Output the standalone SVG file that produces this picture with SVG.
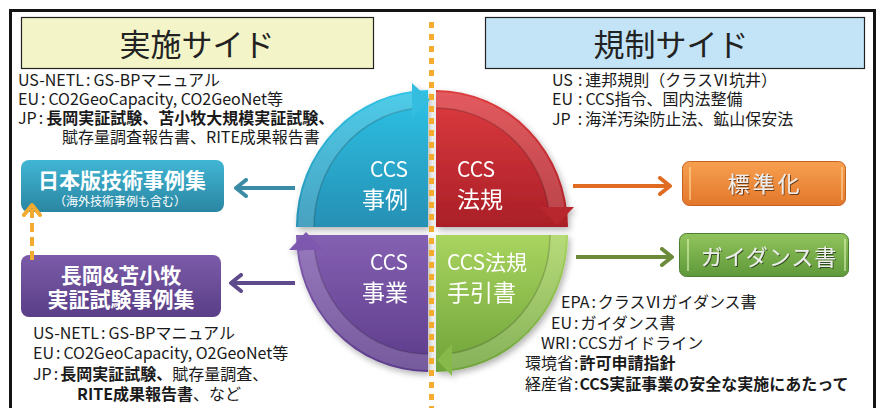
<svg xmlns="http://www.w3.org/2000/svg" width="879" height="408" viewBox="0 0 879 408">
<style>
.t{font-family:'Noto Sans CJK JP','Noto Sans',sans-serif;font-size:16px;fill:#1a1a1a;}
.b{font-weight:bold;}
.title{font-family:'Noto Sans CJK JP','Noto Sans',sans-serif;font-size:31px;fill:#222;}
.q{font-family:'Noto Sans CJK JP','Noto Sans',sans-serif;fill:#fff;}
.bx{font-family:'Noto Sans CJK JP','Noto Sans',sans-serif;fill:#fff;font-weight:bold;}
.sub{font-family:'Noto Sans CJK JP','Noto Sans',sans-serif;fill:#fff;font-size:12px;}
.lab{font-family:'Noto Sans CJK JP','Noto Sans',sans-serif;fill:#eeeeee;font-size:22px;}
.band{fill:none;stroke:#fff;stroke-opacity:0.16;stroke-width:16;}
.edge{fill:none;stroke:#000;stroke-opacity:0.18;stroke-width:1.5;}
</style>
<defs>
<linearGradient id="gTL" x1="0" y1="0" x2="0" y2="1"><stop offset="0" stop-color="#2ec3e6"/><stop offset="1" stop-color="#2590b4"/></linearGradient>
<linearGradient id="gTR" x1="0" y1="0" x2="0" y2="1"><stop offset="0" stop-color="#de3c40"/><stop offset="1" stop-color="#aa1f27"/></linearGradient>
<linearGradient id="gBL" x1="0" y1="0" x2="0" y2="1"><stop offset="0" stop-color="#8560b2"/><stop offset="1" stop-color="#5c3b8a"/></linearGradient>
<linearGradient id="gBR" x1="0" y1="0" x2="0" y2="1"><stop offset="0" stop-color="#a9d45f"/><stop offset="1" stop-color="#6fa33a"/></linearGradient>
<linearGradient id="gTeal" x1="0" y1="0" x2="0" y2="1"><stop offset="0" stop-color="#40b6d4"/><stop offset="1" stop-color="#2a86a2"/></linearGradient>
<linearGradient id="gPur" x1="0" y1="0" x2="0" y2="1"><stop offset="0" stop-color="#7b5ba9"/><stop offset="1" stop-color="#5a3e87"/></linearGradient>
<linearGradient id="gOr" x1="0" y1="0" x2="0" y2="1"><stop offset="0" stop-color="#f7a050"/><stop offset="1" stop-color="#e2772a"/></linearGradient>
<linearGradient id="gGr" x1="0" y1="0" x2="0" y2="1"><stop offset="0" stop-color="#92c45c"/><stop offset="1" stop-color="#5f993a"/></linearGradient>
<filter id="sh" x="-10%" y="-10%" width="120%" height="120%"><feDropShadow dx="2" dy="3" stdDeviation="3" flood-opacity="0.3"/></filter>
<filter id="tsh" x="-10%" y="-30%" width="120%" height="160%"><feDropShadow dx="1" dy="1" stdDeviation="0.6" flood-color="#000" flood-opacity="0.55"/></filter>
<marker id="mTeal" viewBox="0 0 20 20" refX="16" refY="10" markerWidth="20" markerHeight="20" markerUnits="userSpaceOnUse" orient="auto"><path d="M6,2 L16,10 L6,18" fill="none" stroke="#3a8ca6" stroke-width="4" stroke-linecap="round" stroke-linejoin="round"/></marker>
<marker id="mPur" viewBox="0 0 20 20" refX="16" refY="10" markerWidth="20" markerHeight="20" markerUnits="userSpaceOnUse" orient="auto"><path d="M6,2 L16,10 L6,18" fill="none" stroke="#5e4b8c" stroke-width="4" stroke-linecap="round" stroke-linejoin="round"/></marker>
<marker id="mOr" viewBox="0 0 20 20" refX="16" refY="10" markerWidth="20" markerHeight="20" markerUnits="userSpaceOnUse" orient="auto"><path d="M6,2 L16,10 L6,18" fill="none" stroke="#e06b22" stroke-width="4" stroke-linecap="round" stroke-linejoin="round"/></marker>
<marker id="mGr" viewBox="0 0 20 20" refX="16" refY="10" markerWidth="20" markerHeight="20" markerUnits="userSpaceOnUse" orient="auto"><path d="M6,2 L16,10 L6,18" fill="none" stroke="#6b8b3a" stroke-width="4" stroke-linecap="round" stroke-linejoin="round"/></marker>
<marker id="mYel" viewBox="0 0 20 20" refX="16" refY="10" markerWidth="20" markerHeight="20" markerUnits="userSpaceOnUse" orient="auto"><path d="M6,2 L16,10 L6,18" fill="none" stroke="#f2ab30" stroke-width="4" stroke-linecap="round" stroke-linejoin="round"/></marker>
</defs>

<rect x="0" y="0" width="879" height="408" fill="#fff"/>
<rect id="frame" x="10.5" y="10.5" width="864" height="420" fill="#fff" stroke="#141414" stroke-width="3"/>

<g id="title-left">
<rect x="21.5" y="17.5" width="352" height="51" fill="#f3f4c7" stroke="#222" stroke-width="1.2"/>
<text class="title" x="197" y="56" text-anchor="middle">実施サイド</text>
</g>
<g id="title-right">
<rect x="485.5" y="17.5" width="379" height="51" fill="#c3e4f6" stroke="#222" stroke-width="1.2"/>
<text class="title" x="671" y="56" text-anchor="middle">規制サイド</text>
</g>

<g id="circle" filter="url(#sh)">
<g id="q-jirei">
<path d="M428,227 L296,227 A132,137 0 0 1 428,90 Z" fill="url(#gTL)"/>
<path class="band" d="M306,227 A122,127 0 0 1 414,100.8"/>
<path class="edge" d="M314,227 A114,119 0 0 1 414,108.6"/>
<polygon points="412,83 430,100 412,117" fill="#35bde0"/>
<text class="q" x="408" y="177" text-anchor="end" font-size="21">CCS</text>
<text class="q" x="408" y="208" text-anchor="end" font-size="23">事例</text>
</g>
<g id="q-houki">
<path d="M436,227 L436,90 A132,137 0 0 1 568,227 Z" fill="url(#gTR)"/>
<path class="band" d="M436,100 A122,127 0 0 1 557.1,212"/>
<path class="edge" d="M436,108 A114,119 0 0 1 549.2,212"/>
<polygon points="540,207 557,225 574,207" fill="#b8262d"/>
<text class="q" x="457" y="177" font-size="21">CCS</text>
<text class="q" x="457" y="208" font-size="23">法規</text>
</g>
<g id="q-tebiki">
<path d="M436,235 L568,235 A132,137 0 0 1 436,372 Z" fill="url(#gBR)"/>
<path class="band" d="M558,235 A122,127 0 0 1 450,361.2"/>
<path class="edge" d="M550,235 A114,119 0 0 1 450,353.4"/>
<polygon points="452,344 437,360 452,376" fill="#86b948"/>
<text class="q" x="447" y="270" font-size="21">CCS法規</text>
<text class="q" x="447" y="301" font-size="23">手引書</text>
</g>
<g id="q-jigyou">
<path d="M428,235 L428,372 A132,137 0 0 1 296,235 Z" fill="url(#gBL)"/>
<path class="band" d="M428,362 A122,127 0 0 1 306.8,250"/>
<path class="edge" d="M428,354 A114,119 0 0 1 314.6,250"/>
<polygon points="289,250 306,232 323,250" fill="#7e58ae"/>
<text class="q" x="408" y="270" text-anchor="end" font-size="21">CCS</text>
<text class="q" x="408" y="301" text-anchor="end" font-size="23">事業</text>
</g>
</g>

<line id="divider" x1="431.5" y1="22" x2="431.5" y2="408" stroke="#f3ac2e" stroke-width="5" stroke-dasharray="6 6"/>

<g id="node-nihonban">
<rect x="21" y="160" width="203" height="52" rx="8" fill="url(#gTeal)"/>
<text class="bx" x="122" y="188" text-anchor="middle" font-size="21">日本版技術事例集</text>
<text class="sub" x="120" y="206" text-anchor="middle">（海外技術事例も含む）</text>
</g>
<g id="node-nagaoka">
<rect x="21" y="255" width="200" height="62" rx="8" fill="url(#gPur)"/>
<text class="bx" x="121" y="283" text-anchor="middle" font-size="21">長岡&amp;苫小牧</text>
<text class="bx" x="121" y="307" text-anchor="middle" font-size="21">実証試験事例集</text>
</g>
<g id="node-hyoujunka">
<rect x="682.5" y="161.5" width="163" height="44" rx="7" fill="url(#gOr)" stroke="#c4621f" stroke-width="1"/>
<line x1="690" y1="167" x2="690" y2="200" stroke="#ffd79a" stroke-width="1.5" opacity="0.8"/>
<line x1="842" y1="167" x2="842" y2="200" stroke="#ffd79a" stroke-width="1.5" opacity="0.8"/>
<text class="lab" x="765" y="192" text-anchor="middle" letter-spacing="3" filter="url(#tsh)">標準化</text>
</g>
<g id="node-guidance">
<rect x="679.5" y="233.5" width="169" height="43" rx="7" fill="url(#gGr)" stroke="#4d7d2e" stroke-width="1"/>
<line x1="688" y1="239" x2="688" y2="271" stroke="#d9f0b0" stroke-width="1.5" opacity="0.8"/>
<line x1="845" y1="239" x2="845" y2="271" stroke="#d9f0b0" stroke-width="1.5" opacity="0.8"/>
<text class="lab" x="769" y="265" text-anchor="middle" letter-spacing="1" filter="url(#tsh)">ガイダンス書</text>
</g>

<g id="connectors" fill="none" stroke-width="4">
<path d="M295,188 L236,188" stroke="#3a8ca6" marker-end="url(#mTeal)"/>
<path d="M295,283 L231,283" stroke="#5e4b8c" marker-end="url(#mPur)"/>
<path d="M573,186 L670,186" stroke="#e06b22" marker-end="url(#mOr)"/>
<path d="M576,257 L672,257" stroke="#6b8b3a" marker-end="url(#mGr)"/>
<path d="M32,260 L32,205" stroke="#f2ab30" stroke-dasharray="9 5" marker-end="url(#mYel)"/>
</g>

<g id="notes-left-top">
<text class="t" x="18" y="86">US-NETL<tspan dx="2">:</tspan><tspan dx="3">GS-BPマニュアル</tspan></text>
<text class="t" x="18" y="105">EU<tspan dx="2">:</tspan><tspan dx="3">CO2GeoCapacity, CO2GeoNet等</tspan></text>
<text class="t" x="18" y="124">JP<tspan dx="2">:</tspan><tspan dx="3" class="b">長岡実証試験、苫小牧大規模実証試験、</tspan></text>
<text class="t" x="62" y="143">賦存量調査報告書、RITE成果報告書</text>
</g>

<g id="notes-right-top">
<text class="t" x="552" y="86">US<tspan dx="5">:</tspan><tspan dx="3">連邦規則（クラスⅥ坑井）</tspan></text>
<text class="t" x="552" y="105">EU<tspan dx="5">:</tspan><tspan dx="3">CCS指令、国内法整備</tspan></text>
<text class="t" x="552" y="125">JP<tspan dx="7">:</tspan><tspan dx="3">海洋汚染防止法、鉱山保安法</tspan></text>
</g>

<g id="notes-left-bottom">
<text class="t" x="33" y="339">US-NETL<tspan dx="2">:</tspan><tspan dx="3">GS-BPマニュアル</tspan></text>
<text class="t" x="33" y="359">EU<tspan dx="2">:</tspan><tspan dx="3">CO2GeoCapacity, O2GeoNet等</tspan></text>
<text class="t" x="33" y="380">JP<tspan dx="2">:</tspan><tspan dx="2" class="b">長岡実証試験、</tspan>賦存量調査、</text>
<text class="t" x="77" y="400"><tspan class="b">RITE成果報告書</tspan>、など</text>
</g>

<g id="notes-right-bottom">
<text class="t" x="561" y="308">EPA<tspan dx="2">:</tspan><tspan dx="2">クラスⅥガイダンス書</tspan></text>
<text class="t" x="551" y="329">EU<tspan dx="2">:</tspan><tspan dx="2">ガイダンス書</tspan></text>
<text class="t" x="541" y="349">WRI<tspan dx="2">:</tspan><tspan dx="2">CCSガイドライン</tspan></text>
<text class="t" x="525" y="369">環境省<tspan dx="1">:</tspan><tspan dx="1" class="b">許可申請指針</tspan></text>
<text class="t" x="525" y="390">経産省<tspan dx="1">:</tspan><tspan dx="1" class="b">CCS実証事業の安全な実施にあたって</tspan></text>
</g>
</svg>
